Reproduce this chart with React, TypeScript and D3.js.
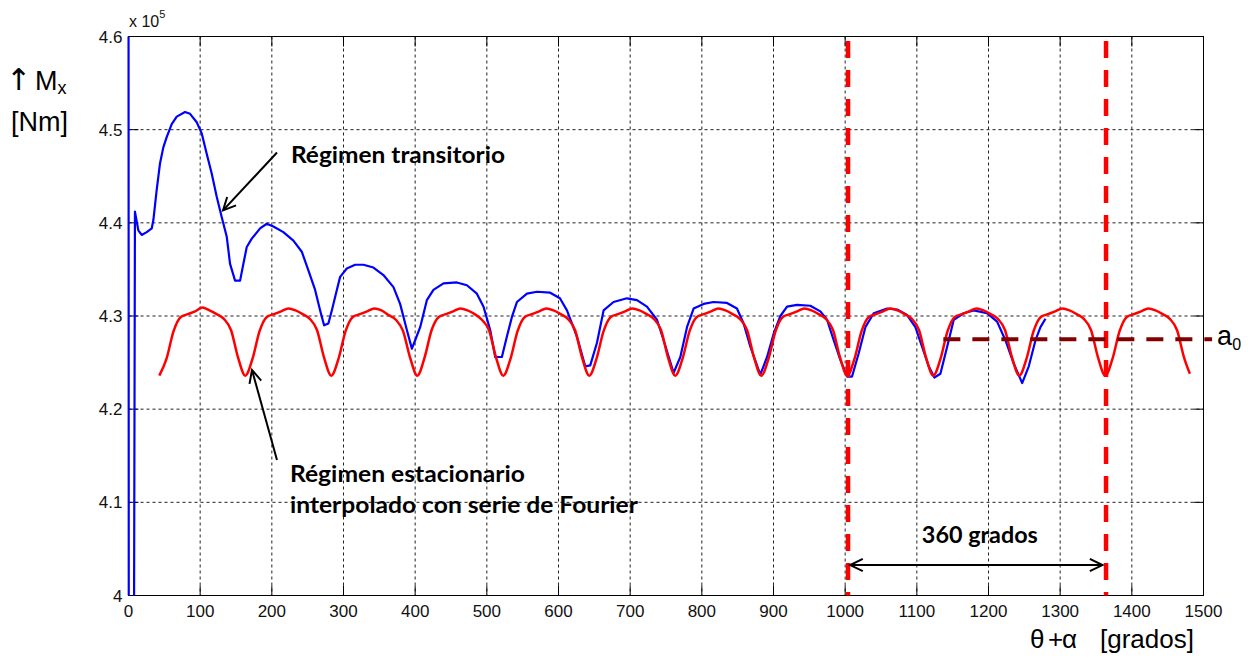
import React from 'react';
import * as d3 from 'd3';

// axis ticks
const xTicks = [0, 100, 200, 300, 400, 500, 600, 700, 800, 900, 1000, 1100, 1200, 1300, 1400, 1500];
const yTicks = [4, 4.1, 4.2, 4.3, 4.4, 4.5, 4.6];
const yTickLabels = ['4', '4.1', '4.2', '4.3', '4.4', '4.5', '4.6'];

// transient regime (blue), [degrees, Mx x 1e5]
const blueCurve: [number, number][] = [
  [0, 4.75], [0.4, 3.9], [7.5, 3.9], [9, 4.412], [13.7, 4.392], [18.4, 4.387], [25.4, 4.39], [32.4, 4.394],
  [34.7, 4.403], [39.3, 4.435], [44, 4.464], [48.6, 4.481], [53.3, 4.492], [60.3, 4.506], [67.3, 4.514],
  [78.9, 4.519], [85.9, 4.517], [95.2, 4.508], [102.2, 4.496], [109.2, 4.474], [116.1, 4.453], [123.1, 4.428],
  [130.1, 4.406], [137.1, 4.385], [141.7, 4.356], [148.7, 4.338], [155.7, 4.338], [160.3, 4.356], [165, 4.374],
  [172, 4.383], [183.6, 4.394], [192.9, 4.399], [202.2, 4.396], [216.1, 4.39], [230.1, 4.381], [241.8, 4.369],
  [251, 4.349], [260.4, 4.328], [267.4, 4.306], [272.9, 4.29], [278.9, 4.292], [283.7, 4.306], [290.7, 4.328],
  [295.3, 4.342], [304.6, 4.351], [316.2, 4.355], [327.8, 4.355], [341.8, 4.352], [355.7, 4.344], [369.7, 4.331],
  [379, 4.313], [388.4, 4.285], [395.4, 4.265], [400, 4.274], [407, 4.288], [416.3, 4.317], [425.5, 4.328],
  [439.5, 4.335], [458.2, 4.336], [472.2, 4.333], [486.1, 4.324], [495.4, 4.31], [504.7, 4.285], [511.7, 4.256],
  [521, 4.256], [528, 4.278], [535, 4.299], [542, 4.315], [556, 4.324], [570, 4.326], [588.4, 4.325],
  [602, 4.319], [611.8, 4.306], [625.7, 4.278], [637.3, 4.246], [644.3, 4.247], [653.6, 4.271], [662.9, 4.306],
  [676.8, 4.315], [695.5, 4.319], [709.5, 4.317], [723.4, 4.31], [737.4, 4.296], [746.7, 4.274], [760.6, 4.239],
  [770, 4.256], [779.3, 4.288], [788.5, 4.308], [802.5, 4.313], [816.4, 4.315], [835.1, 4.314], [849, 4.308],
  [858.3, 4.292], [867.7, 4.267], [881.6, 4.237], [891, 4.256], [900.2, 4.281], [909.6, 4.3], [918.9, 4.31],
  [932.8, 4.312], [951.4, 4.311], [965.4, 4.305], [974.7, 4.296], [984, 4.274], [993.3, 4.253], [1002.7, 4.235],
  [1009.6, 4.235], [1018.9, 4.26], [1028.2, 4.288], [1039.8, 4.303], [1058.5, 4.308], [1072.5, 4.307],
  [1086.4, 4.301], [1098, 4.288], [1107.3, 4.267], [1116.6, 4.246], [1124.5, 4.234], [1132.9, 4.238],
  [1142.3, 4.267], [1151.5, 4.296], [1165.4, 4.303], [1179.4, 4.306], [1198, 4.303], [1212, 4.294],
  [1223.6, 4.274], [1235.2, 4.249], [1247, 4.228], [1256.2, 4.246], [1265.6, 4.274], [1272.5, 4.288],
  [1279.5, 4.297],
];

// steady regime, Fourier fit (red)
const redCurve: [number, number][] = [
  [43, 4.236], [53, 4.254], [63, 4.284], [73, 4.299], [83, 4.302], [93, 4.305], [103, 4.309], [113, 4.306], [123, 4.302], [133, 4.297], [143, 4.285], [153, 4.255],
  [163, 4.236], [173, 4.254], [183, 4.284], [193, 4.299], [203, 4.302], [213, 4.305], [223, 4.308], [233, 4.306], [243, 4.302], [253, 4.297], [263, 4.285], [273, 4.255],
  [283, 4.236], [293, 4.254], [303, 4.284], [313, 4.299], [323, 4.302], [333, 4.305], [343, 4.308], [353, 4.306], [363, 4.301], [373, 4.296], [383, 4.284], [393, 4.255],
  [403, 4.236], [413, 4.255], [423, 4.285], [433, 4.299], [443, 4.302], [453, 4.305], [463, 4.308], [473, 4.306], [483, 4.302], [493, 4.296], [503, 4.285], [513, 4.255],
  [523, 4.236], [533, 4.254], [543, 4.284], [553, 4.299], [563, 4.302], [573, 4.305], [583, 4.308], [593, 4.306], [603, 4.302], [613, 4.297], [623, 4.285], [633, 4.255],
  [643, 4.236], [653, 4.254], [663, 4.284], [673, 4.299], [683, 4.302], [693, 4.305], [703, 4.308], [713, 4.306], [723, 4.302], [733, 4.297], [743, 4.285], [753, 4.255],
  [763, 4.236], [773, 4.254], [783, 4.284], [793, 4.299], [803, 4.302], [813, 4.305], [823, 4.308], [833, 4.306], [843, 4.302], [853, 4.297], [863, 4.285], [873, 4.255],
  [883, 4.236], [893, 4.254], [903, 4.284], [913, 4.299], [923, 4.302], [933, 4.305], [943, 4.308], [953, 4.306], [963, 4.302], [973, 4.297], [983, 4.285], [993, 4.255],
  [1003, 4.236], [1013, 4.254], [1023, 4.284], [1033, 4.299], [1043, 4.302], [1053, 4.305], [1063, 4.308], [1073, 4.306], [1083, 4.302], [1093, 4.297], [1103, 4.285], [1113, 4.255],
  [1123, 4.236], [1133, 4.254], [1143, 4.284], [1153, 4.299], [1163, 4.302], [1173, 4.305], [1183, 4.308], [1193, 4.306], [1203, 4.302], [1213, 4.297], [1223, 4.285], [1233, 4.255],
  [1243, 4.236], [1253, 4.254], [1263, 4.284], [1273, 4.299], [1283, 4.302], [1293, 4.305], [1303, 4.308], [1313, 4.306], [1323, 4.302], [1333, 4.297], [1343, 4.285], [1353, 4.255],
  [1363, 4.236], [1373, 4.254], [1383, 4.284], [1393, 4.299], [1403, 4.302], [1413, 4.305], [1423, 4.308], [1433, 4.306], [1443, 4.302], [1453, 4.297], [1463, 4.285], [1473, 4.255],
  [1481, 4.238],
];

// one period markers and mean value
const periodLines = [1004, 1364];
const a0Value = 4.275;
const a0From = 1137;
const a0To = 1512;

const W = 1253;
const H = 659;

const x = d3.scaleLinear().domain([0, 1500]).range([128.5, 1203.5]);
const y = d3.scaleLinear().domain([4, 4.6]).range([595.5, 36.5]);

const blueLine = d3
  .line<[number, number]>()
  .x((d) => x(d[0]))
  .y((d) => y(d[1]));

const redLine = d3
  .line<[number, number]>()
  .x((d) => x(d[0]))
  .y((d) => y(d[1]))
  .curve(d3.curveMonotoneX);

const tickFont = "Arial, 'Liberation Sans', sans-serif";
const boldFont = "Lato, 'Open Sans', sans-serif";

// open arrow head lines at a tip, coming from a tail
const arrowHead = (tx: number, ty: number, fx: number, fy: number, len = 14) => {
  const a = Math.atan2(ty - fy, tx - fx);
  const s = 0.45;
  return `M ${tx - len * Math.cos(a - s)} ${ty - len * Math.sin(a - s)} L ${tx} ${ty} L ${tx - len * Math.cos(a + s)} ${ty - len * Math.sin(a + s)}`;
};

const Arrow = ({ from, to, both = false }: { from: [number, number]; to: [number, number]; both?: boolean }) => {
  const fx = x(from[0]);
  const fy = y(from[1]);
  const tx = x(to[0]);
  const ty = y(to[1]);
  return (
    <g stroke="#000" strokeWidth={2} fill="none">
      <line x1={fx} y1={fy} x2={tx} y2={ty} />
      <path d={arrowHead(tx, ty, fx, fy)} />
      {both && <path d={arrowHead(fx, fy, tx, ty)} />}
    </g>
  );
};

const App = () => {
  const [x0, x1] = x.range();
  const [y0, y1] = y.range();
  const inner = xTicks.slice(1, -1);
  const innerY = yTicks.slice(1, -1);

  return (
    <svg width={W} height={H} style={{ position: 'absolute', left: 0, top: 0, background: '#fff' }}>
      <defs>
        <clipPath id="plot">
          <rect x={x0 - 2} y={y1} width={x1 - x0 + 2} height={y0 - y1} />
        </clipPath>
      </defs>

      {/* grid */}
      <g stroke="#222" strokeWidth={1} strokeDasharray="3,3">
        {inner.map((t) => (
          <line key={'gx' + t} x1={x(t)} x2={x(t)} y1={y1} y2={y0} />
        ))}
        {innerY.map((t) => (
          <line key={'gy' + t} x1={x0} x2={x1} y1={y(t)} y2={y(t)} />
        ))}
      </g>

      {/* ticks */}
      <g stroke="#000" strokeWidth={1}>
        {inner.map((t) => (
          <g key={'tx' + t}>
            <line x1={x(t)} x2={x(t)} y1={y0} y2={y0 - 10} />
            <line x1={x(t)} x2={x(t)} y1={y1} y2={y1 + 10} />
          </g>
        ))}
        {innerY.map((t) => (
          <g key={'ty' + t}>
            <line x1={x0} x2={x0 + 10} y1={y(t)} y2={y(t)} />
            <line x1={x1} x2={x1 - 10} y1={y(t)} y2={y(t)} />
          </g>
        ))}
      </g>

      {/* box */}
      <rect x={x0} y={y1} width={x1 - x0} height={y0 - y1} fill="none" stroke="#000" strokeWidth={1} />

      {/* curves */}
      <g clipPath="url(#plot)" fill="none">
        <path d={blueLine(blueCurve) || ''} stroke="#0000ff" strokeWidth={2.2} strokeLinejoin="round" />
        <path d={redLine(redCurve) || ''} stroke="#ff0000" strokeWidth={2.5} />
      </g>

      {/* tick labels */}
      <g fontFamily={tickFont} fontSize={17} fill="#111">
        {xTicks.map((t) => (
          <text key={'lx' + t} x={x(t)} y={617} textAnchor="middle">
            {t}
          </text>
        ))}
        {yTicks.map((t, i) => (
          <text key={'ly' + t} x={x0 - 6} y={y(t) + 6} textAnchor="end">
            {yTickLabels[i]}
          </text>
        ))}
        <text x={129} y={27} fontSize={16}>
          x 10
          <tspan fontSize={11} dy={-9}>5</tspan>
        </text>
      </g>

      {/* period markers */}
      <g stroke="#ff0000" strokeWidth={4.5} strokeDasharray="17,12">
        {periodLines.map((p) => (
          <line key={'p' + p} x1={x(p)} x2={x(p)} y1={y1 + 4.5} y2={y0} />
        ))}
      </g>
      <line x1={x(a0From)} x2={x(a0To)} y1={y(a0Value)} y2={y(a0Value)} stroke="#800000" strokeWidth={4} strokeDasharray="17,12" />
      <text x={x(a0To) + 5} y={y(a0Value) + 6} fontFamily={tickFont} fontSize={27} fill="#000">
        a<tspan fontSize={16} dy={5}>0</tspan>
      </text>

      {/* annotations */}
      <Arrow from={[207.2, 4.4755]} to={[131.9, 4.4133]} />
      <Arrow from={[207.2, 4.1454]} to={[172.3, 4.242]} />
      <Arrow from={[1007, 4.0327]} to={[1359, 4.0327]} both />
      <g fontFamily={boldFont} fontWeight="bold" fontSize={22} fill="#000">
        <text x={x(226.7)} y={y(4.4642)} textLength={214} lengthAdjust="spacingAndGlyphs">
          Régimen transitorio
        </text>
        <text x={x(225.3)} y={y(4.1218)} textLength={235} lengthAdjust="spacingAndGlyphs">
          Régimen estacionario
        </text>
        <text x={x(225.3)} y={y(4.0886)} textLength={348} lengthAdjust="spacingAndGlyphs">
          interpolado con serie de Fourier
        </text>
        <text x={x(1107)} y={y(4.0564)} textLength={116} lengthAdjust="spacingAndGlyphs">
          360 grados
        </text>
      </g>

      {/* axis titles */}
      <g fontFamily={tickFont} fill="#000">
        <text x={6} y={90} fontSize={30} fontFamily="'DejaVu Sans', sans-serif">
          ↑
        </text>
        <text x={35} y={90} fontSize={27}>
          M<tspan fontSize={18} dy={4}>x</tspan>
        </text>
        <text x={11} y={131} fontSize={27}>
          [Nm]
        </text>
        <text x={1030} y={648} fontSize={26}>
          θ
        </text>
        <text x={1048} y={648} fontSize={26}>
          +
        </text>
        <text x={1062} y={648} fontSize={26}>
          α
        </text>
        <text x={1100} y={648} fontSize={26}>
          [grados]
        </text>
      </g>
    </svg>
  );
};

export default App;
